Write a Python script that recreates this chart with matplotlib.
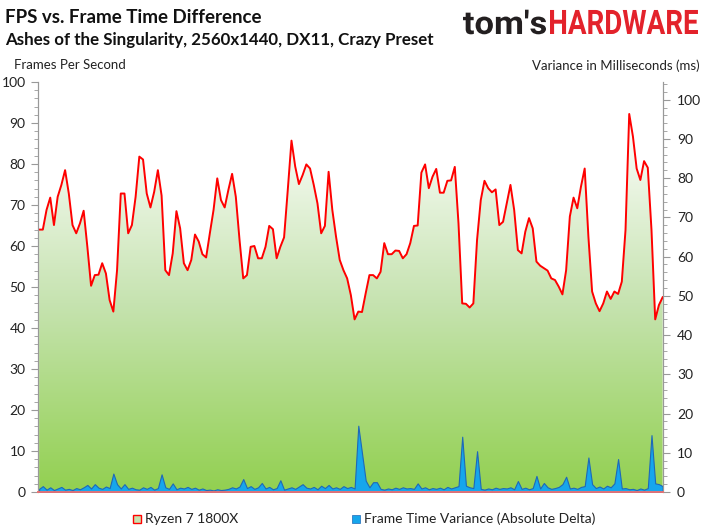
import matplotlib.pyplot as plt
import numpy as np
from matplotlib.colors import LinearSegmentedColormap
from matplotlib.textpath import TextPath
from matplotlib.patches import PathPatch
from matplotlib.font_manager import FontProperties
from matplotlib.transforms import Affine2D, IdentityTransform

# FPS samples (Ryzen 7 1800X)
fps = [64, 64, 68.8, 71.8, 65.1, 72, 74.9, 78.5, 72.8, 65.1,
       63.1, 65.5, 68.6, 59.8, 50.3, 52.9, 53, 55.8, 53.3, 46.8,
       44, 54.1, 72.8, 72.8, 63.1, 65.1, 72, 81.8, 81.1, 72.8,
       69.4, 73.2, 78.5, 72.3, 54.1, 52.9, 58.2, 68.5, 64.3, 55.8,
       54.1, 56.6, 62.8, 61.1, 58, 57.2, 63.1, 68.8, 76.5, 71.2,
       69.4, 73.7, 77.6, 72, 61.5, 52.1, 52.9, 59.8, 60, 57,
       57, 59.8, 64.9, 64.1, 57, 59.8, 62.1, 73.7, 85.7, 79.4,
       75.1, 77.3, 79.9, 78.9, 74.9, 70.4, 63.1, 64.9, 78.1, 68.8,
       62.3, 56.6, 54.1, 52.1, 48, 42.1, 44, 43.9, 48.5, 52.9,
       52.9, 52.1, 53.7, 60.7, 58, 58, 58.9, 58.8, 57, 58,
       60.7, 64.9, 65, 77.9, 79.9, 74.1, 76.9, 78.8, 73, 73,
       75.9, 76, 79.3, 65.5, 46, 45.9, 45, 46, 61.5, 71.2,
       75.9, 74.1, 73.1, 73.8, 65.1, 65.9, 70.4, 74.9, 68.8, 59,
       58.2, 63.5, 66.8, 64.3, 56.2, 55.2, 54.6, 54, 52.1, 51.7,
       50.1, 48.2, 54.1, 67.2, 71.8, 69.2, 74.5, 78.9, 62.3, 48.9,
       46, 44.1, 46, 48.9, 47.1, 48.9, 48.3, 51.3, 63.9, 92.2,
       86.7, 78.9, 76.1, 80.7, 79.1, 63.9, 42.1, 45.6, 47.5]

# frame time variance (ms), same sample positions
variance = [0.8, 1.5, 0.6, 1.2, 0.5, 0.9, 1.3, 0.6, 0.8, 0.5,
            1.0, 0.7, 1.2, 1.8, 0.9, 2.0, 1.1, 0.8, 1.4, 1.0,
            4.7, 2.0, 0.9, 2.0, 0.8, 1.1, 0.7, 0.6, 1.2, 0.8,
            1.3, 0.6, 1.0, 4.5, 1.2, 0.8, 2.2, 0.7, 1.1, 0.9,
            1.3, 0.8, 1.1, 0.6, 0.9, 0.5, 0.6, 0.4, 0.7, 0.5,
            0.6, 0.8, 1.2, 0.9, 1.4, 3.3, 1.0, 1.5, 0.8, 1.2,
            2.3, 0.9, 1.3, 0.7, 1.0, 3.0, 0.6, 0.9, 1.2, 0.8,
            1.4, 2.0, 1.1, 0.9, 1.3, 0.7, 1.6, 1.0, 1.8, 0.9,
            1.2, 0.8, 1.5, 1.0, 1.3, 0.9, 16.9, 9.9, 2.9, 1.2,
            2.5, 2.5, 0.8, 0.6, 0.9, 0.7, 1.1, 0.8, 1.2, 0.9,
            1.0, 0.8, 2.2, 0.9, 1.2, 0.7, 1.0, 0.8, 1.1, 0.7,
            1.3, 0.9, 1.2, 1.5, 14.1, 1.6, 1.2, 1.0, 10.4, 0.8,
            0.6, 0.9, 0.7, 1.1, 0.8, 1.0, 0.9, 1.2, 0.7, 2.8,
            0.8, 1.1, 0.7, 1.0, 4.1, 0.9, 2.3, 1.2, 0.8, 1.0,
            1.3, 2.0, 3.9, 0.9, 1.1, 0.8, 1.3, 1.5, 8.8, 2.0,
            1.0, 1.4, 0.9, 1.6, 1.2, 2.2, 8.4, 0.9, 1.0, 0.7,
            0.8, 0.5, 0.9, 0.6, 1.0, 14.5, 2.2, 2.0, 1.5]

left_ticks = list(range(0, 101, 10))
right_ticks = list(range(0, 101, 10))

plt.rcParams['font.family'] = ['Lato', 'DejaVu Sans']

W, H = 708, 531
fig = plt.figure(figsize=(W / 100, H / 100), dpi=100)
ax1 = fig.add_axes([38 / W, 1 - 492 / H, (663 - 38) / W, (492 - 82) / H])

x = np.arange(len(fps))
n = len(fps) - 1

# gradient filled area under the fps line
poly = ax1.fill_between(x, fps, 0, color='none', lw=0)
cmap = LinearSegmentedColormap.from_list('g', ['#92D050', '#C6E3B0', '#FFFFFF'])
grad = np.linspace(0, 1, 256).reshape(-1, 1)
im = ax1.imshow(grad, cmap=cmap, aspect='auto', origin='lower',
                extent=[0, n, 0, 92], vmin=0, vmax=1, zorder=1)
im.set_clip_path(poly.get_paths()[0], transform=ax1.transData)
ax1.plot(x, fps, color='#FF0000', lw=1.4, zorder=3)

ax1.set_xlim(-0.3, n + 0.1)
ax1.set_ylim(0, 100)
ax1.set_xticks([])
ax1.set_yticks(left_ticks)
ax1.set_yticks(range(0, 101, 2), minor=True)
ax1.tick_params(axis='y', which='major', length=5, color='#999999',
                labelsize=10, labelcolor='#222222', pad=4)
ax1.tick_params(axis='y', which='minor', length=3, color='#999999')

# variance on the right axis
ax2 = ax1.twinx()
ax2.fill_between(x, variance, 0, facecolor='#16A6EC', edgecolor='#1E68B8',
                 lw=0.8, zorder=2)
ax2.set_ylim(0, 104.5)
ax2.set_yticks(right_ticks)
ax2.set_yticks(range(0, 105, 2), minor=True)
ax2.tick_params(axis='y', which='major', length=5, color='#999999',
                labelsize=10, labelcolor='#222222', pad=5)
ax2.tick_params(axis='y', which='minor', length=3, color='#999999')

for a in (ax1, ax2):
    a.spines['top'].set_visible(False)
    a.spines['left'].set_color('#999999')
    a.spines['right'].set_color('#999999')
    a.spines['bottom'].set_color('#F07070')
    a.spines['bottom'].set_linewidth(1.3)

# titles
fig.text(5 / W, 1 - 23 / H, 'FPS vs. Frame Time Difference', fontsize=13.5,
         fontweight='bold', color='#111111', va='baseline')
fig.text(5 / W, 1 - 45 / H, 'Ashes of the Singularity, 2560x1440, DX11, Crazy Preset',
         fontsize=12.2, fontweight='bold', color='#111111', va='baseline')


# logo, squeezed to fit like the condensed original lettering
def logo_part(s, x0, x1, base, cap, color):
    tp = TextPath((0, 0), s, size=40, prop=FontProperties(family='Roboto', weight='bold'))
    ext = tp.get_extents()
    sx = (x1 - x0) / ext.width
    sy = cap / 40 / 0.71
    tr = Affine2D().translate(-ext.x0, 0).scale(sx, sy).translate(x0, H - base)
    fig.add_artist(PathPatch(tp, transform=tr + IdentityTransform(),
                             facecolor=color, edgecolor='none'))


logo_part("tom's", 463, 546, 34, 23, '#231F20')
logo_part('HARDWARE', 550, 698, 34, 24, '#E3222B')

# axis titles
fig.text(14 / W, 1 - 69 / H, 'Frames Per Second', fontsize=9.5, color='#222222',
         va='baseline')
fig.text(700 / W, 1 - 70 / H, 'Variance in Milliseconds (ms)', fontsize=9.5,
         color='#222222', ha='right', va='baseline')

# legend
fig.patches.append(plt.Rectangle((133 / W, 1 - 523 / H), 8 / W, 8 / H,
                                 transform=fig.transFigure, facecolor='#C6E3B0',
                                 edgecolor='#FF0000', lw=1))
fig.text(145 / W, 1 - 523 / H, 'Ryzen 7 1800X', fontsize=10, color='#222222',
         va='baseline')
fig.patches.append(plt.Rectangle((352 / W, 1 - 523 / H), 8 / W, 8 / H,
                                 transform=fig.transFigure, facecolor='#16A6EC',
                                 edgecolor='#1E68B8', lw=0.5))
fig.text(364 / W, 1 - 523 / H, 'Frame Time Variance (Absolute Delta)', fontsize=10,
         color='#222222', va='baseline')

fig.savefig('out.png', dpi=100)
